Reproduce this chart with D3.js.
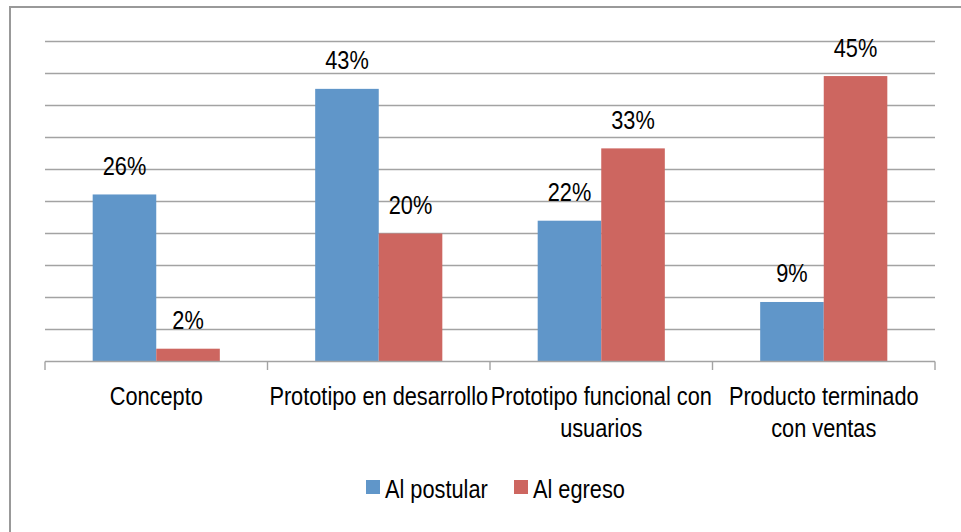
<!DOCTYPE html>
<html>
<head>
<meta charset="utf-8">
<script src="https://cdn.jsdelivr.net/npm/d3@7"></script>
<style>
  body { margin: 0; background: #fff; }
  svg { display: block; }
  text { font-family: "Liberation Sans", Arial, sans-serif; font-size: 25px; fill: #000; }
</style>
</head>
<body>
<svg width="961" height="532"></svg>
<script>
// Categories (line breaks as in the chart) and the two series.
var categories = ["Concepto", "Prototipo en desarrollo", "Prototipo funcional con\nusuarios", "Producto terminado\ncon ventas"];
var series = ["Al postular", "Al egreso"];
var alPostular = [26.1, 42.6, 22.0, 9.3];
var alEgreso = [2.0, 20.0, 33.3, 44.6];
var yTicks = [0, 5, 10, 15, 20, 25, 30, 35, 40, 45, 50];
var colors = ["#6096c9", "#cd6660"];

var svg = d3.select("svg");
var narrow = 0.87; // horizontal squeeze, narrow font look

// outer chart border (right/bottom edges fall outside the picture)
svg.append("rect")
  .attr("x", 10).attr("y", 7)
  .attr("width", 980).attr("height", 560)
  .attr("fill", "none")
  .attr("stroke", "#999").attr("stroke-width", 2);

var x = d3.scaleBand().domain(categories).range([45, 935]);
var xs = d3.scaleBand().domain(series).range([0, x.bandwidth()]).paddingOuter(0.75);
var y = d3.scaleLinear().domain([0, 50]).range([361.5, 41.5]);

// gridlines
svg.append("g").selectAll("line")
  .data(yTicks.slice(1))
  .enter().append("line")
    .attr("x1", 45).attr("x2", 935)
    .attr("y1", function(d) { return y(d); })
    .attr("y2", function(d) { return y(d); })
    .attr("stroke", "#a3a3a3").attr("stroke-width", 1.4);

// bars
var rows = categories.map(function(c, i) { return [alPostular[i], alEgreso[i]]; });
var group = svg.append("g").selectAll("g")
  .data(rows)
  .enter().append("g")
    .attr("transform", function(d, i) { return "translate(" + x(categories[i]) + ",0)"; });

group.selectAll("rect")
  .data(function(d) { return d; })
  .enter().append("rect")
    .attr("x", function(d, j) { return xs(series[j]); })
    .attr("y", function(d) { return y(d); })
    .attr("width", xs.bandwidth())
    .attr("height", function(d) { return y(0) - y(d); })
    .attr("fill", function(d, j) { return colors[j]; });

// data labels
group.selectAll("text")
  .data(function(d) { return d; })
  .enter().append("text")
    .attr("text-anchor", "middle")
    .attr("transform", function(d, j) {
      return "translate(" + (xs(series[j]) + xs.bandwidth() / 2) + "," + (y(d) - 19.5) + ") scale(" + narrow + ",1)";
    })
    .text(function(d) { return Math.round(d) + "%"; });

// category axis
var axis = svg.append("g");
axis.append("line")
  .attr("x1", 45).attr("x2", 935)
  .attr("y1", y(0)).attr("y2", y(0))
  .attr("stroke", "#a3a3a3").attr("stroke-width", 1.4);

var edges = categories.map(function(c) { return x(c); }).concat([935]);
axis.selectAll(".tick")
  .data(edges)
  .enter().append("line")
    .attr("class", "tick")
    .attr("x1", function(d) { return d; }).attr("x2", function(d) { return d; })
    .attr("y1", y(0)).attr("y2", y(0) + 8.5)
    .attr("stroke", "#a3a3a3").attr("stroke-width", 1.4);

categories.forEach(function(c) {
  c.split("\n").forEach(function(line, k) {
    axis.append("text")
      .attr("text-anchor", "middle")
      .attr("transform", "translate(" + (x(c) + x.bandwidth() / 2) + "," + (405 + k * 31.5) + ") scale(" + narrow + ",1)")
      .text(line);
  });
});

// legend
var legendX = [366, 514];
var legend = svg.append("g").selectAll("g")
  .data(series)
  .enter().append("g")
    .attr("transform", function(d, i) { return "translate(" + legendX[i] + ",480)"; });

legend.append("rect")
  .attr("width", 14).attr("height", 14)
  .attr("fill", function(d, i) { return colors[i]; });

legend.append("text")
  .attr("transform", "translate(19,18) scale(" + narrow + ",1)")
  .text(function(d) { return d; });
</script>
</body>
</html>
